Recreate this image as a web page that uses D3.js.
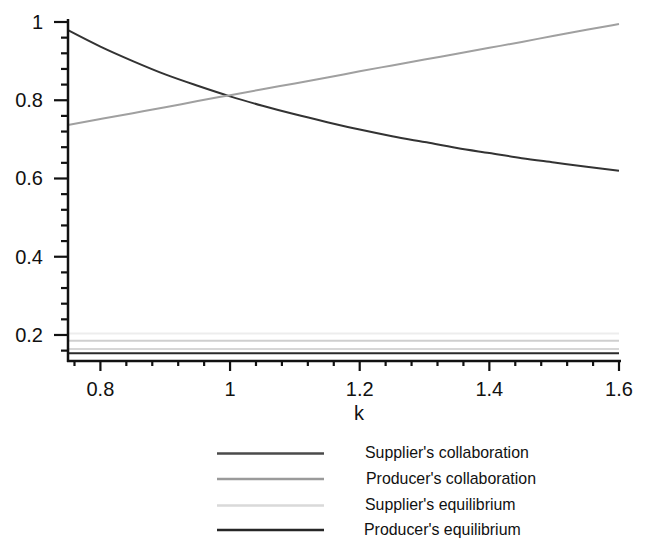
<!DOCTYPE html>
<html>
<head>
<meta charset="utf-8">
<script src="https://cdn.jsdelivr.net/npm/d3@7/dist/d3.min.js"></script>
<style>
  html, body { margin: 0; padding: 0; background: #fff; }
  svg { display: block; font-family: "Liberation Sans", Arial, sans-serif; }
</style>
</head>
<body>
<svg id="chart" width="647" height="540"></svg>
<script>
// ---- data ----
const kValues = [0.75, 0.80, 0.85, 0.90, 0.95, 1.00, 1.05, 1.10, 1.15, 1.20, 1.25, 1.30, 1.35, 1.40, 1.45, 1.50, 1.55, 1.60];
const supplierCollaboration = [0.979, 0.937, 0.900, 0.866, 0.837, 0.810, 0.786, 0.764, 0.744, 0.725, 0.708, 0.693, 0.678, 0.665, 0.652, 0.641, 0.630, 0.620];
const producerCollaboration = [0.737, 0.752, 0.767, 0.782, 0.798, 0.813, 0.828, 0.843, 0.858, 0.874, 0.889, 0.904, 0.919, 0.934, 0.949, 0.965, 0.980, 0.995];
const supplierEquilibrium = [0.185, 0.185];
const producerEquilibrium = [0.153, 0.153];
const faintLevels = [0.204, 0.164];
const flatK = [0.75, 1.6];
const xTickLabels = [0.8, 1, 1.2, 1.4, 1.6];
const yTickLabels = [0.2, 0.4, 0.6, 0.8, 1];
const seriesNames = ["Supplier's collaboration", "Producer's collaboration", "Supplier's equilibrium", "Producer's equilibrium"];
const seriesColors = ["#4a4a4a", "#9a9a9a", "#d9d9d9", "#262626"];
const xLabel = "k";

// ---- layout ----
const svg = d3.select("#chart");
const x = d3.scaleLinear().domain([0.75, 1.6]).range([68, 619]);
const y = d3.scaleLinear().domain([0.1335, 1]).range([361, 22]);

const line = d3.line().x(d => x(d[0])).y(d => y(d[1]));

// faint horizontal lines near the bottom
const faintColors = ["#ededed", "#d6d6d6"];
faintLevels.forEach((v, i) => {
  svg.append("path")
    .datum(flatK.map(k => [k, v]))
    .attr("d", line).attr("fill", "none")
    .attr("stroke", faintColors[i]).attr("stroke-width", 2);
});

const series = [
  { name: seriesNames[0], k: kValues, v: supplierCollaboration, c: seriesColors[0], c2: "#333" },
  { name: seriesNames[1], k: kValues, v: producerCollaboration, c: seriesColors[1], c2: "#a0a0a0" },
  { name: seriesNames[2], k: flatK, v: supplierEquilibrium, c: seriesColors[2], c2: "#cfcfcf" },
  { name: seriesNames[3], k: flatK, v: producerEquilibrium, c: seriesColors[3], c2: "#2a2a2a" }
];

series.forEach(s => {
  svg.append("path")
    .datum(s.k.map((k, i) => [k, s.v[i]]))
    .attr("d", line.curve(d3.curveMonotoneX))
    .attr("fill", "none")
    .attr("stroke", s.c2).attr("stroke-width", 2);
});

// ---- axes ----
const axisG = svg.append("g").attr("stroke", "#111");
axisG.append("line").attr("x1", x(0.75)).attr("x2", x(0.75))
  .attr("y1", y(1) - 3).attr("y2", y(0.1335) + 1).attr("stroke-width", 2.5);
axisG.append("line").attr("x1", x(0.75) - 1).attr("x2", x(1.6) + 2)
  .attr("y1", y(0.1335)).attr("y2", y(0.1335)).attr("stroke-width", 2.5);

const yMinor = d3.range(0.16, 1.0001, 0.04).filter(v => !yTickLabels.some(t => Math.abs(t - v) < 1e-6));
yMinor.forEach(v => {
  axisG.append("line").attr("x1", x(0.75) - 7).attr("x2", x(0.75))
    .attr("y1", y(v)).attr("y2", y(v)).attr("stroke-width", 2.2);
});
yTickLabels.forEach(v => {
  axisG.append("line").attr("x1", x(0.75) - 14).attr("x2", x(0.75))
    .attr("y1", y(v)).attr("y2", y(v)).attr("stroke-width", 2.2);
  svg.append("text").attr("x", 43).attr("y", y(v))
    .attr("text-anchor", "end").attr("dominant-baseline", "central")
    .attr("font-size", 20).attr("fill", "#111").text(v);
});

const xMinor = d3.range(0.76, 1.6001, 0.04).filter(v => !xTickLabels.some(t => Math.abs(t - v) < 1e-6));
xMinor.forEach(v => {
  axisG.append("line").attr("x1", x(v)).attr("x2", x(v))
    .attr("y1", y(0.1335)).attr("y2", y(0.1335) + 5).attr("stroke-width", 2.2);
});
xTickLabels.forEach(v => {
  axisG.append("line").attr("x1", x(v)).attr("x2", x(v))
    .attr("y1", y(0.1335)).attr("y2", y(0.1335) + 10).attr("stroke-width", 2.2);
  svg.append("text").attr("x", x(v)).attr("y", 396)
    .attr("text-anchor", "middle")
    .attr("font-size", 20).attr("fill", "#111").text(v);
});

svg.append("text").attr("x", 359).attr("y", 420)
  .attr("text-anchor", "middle").attr("font-size", 20).attr("fill", "#111").text(xLabel);

// ---- legend ----
const legendY = [453.5, 479, 505.5, 530];
const legendTextX = [365, 366, 365, 364];
series.forEach((s, i) => {
  svg.append("line").attr("x1", 217).attr("x2", 324)
    .attr("y1", legendY[i]).attr("y2", legendY[i])
    .attr("stroke", s.c).attr("stroke-width", 2.5);
  svg.append("text").attr("x", legendTextX[i]).attr("y", legendY[i] - 1)
    .attr("dominant-baseline", "central")
    .attr("font-size", 15.9).attr("fill", "#111").text(s.name);
});
</script>
</body>
</html>
